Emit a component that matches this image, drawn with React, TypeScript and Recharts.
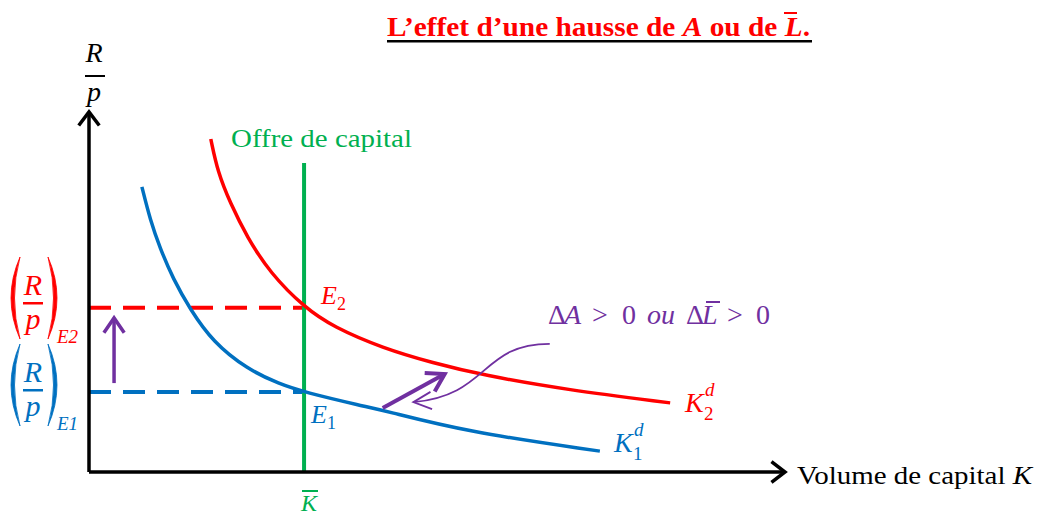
import React from 'react';
import { LineChart, Line, XAxis, YAxis, ReferenceLine } from 'recharts';

// Demand curve K1d (blue) — capital volume K and real rental rate R/p
const blueK = [0.76, 0.88, 1.02, 1.21, 1.45, 1.78, 2.27, 2.74, 3.09, 3.94, 4.22, 5.43, 7.34];
const blueR = [7.92, 7.0, 6.22, 5.36, 4.53, 3.61, 2.86, 2.44, 2.22, 1.83, 1.72, 1.11, 0.58];
// Demand curve K2d (red)
const redK = [1.75, 1.85, 2.03, 2.27, 2.6, 3.1, 3.51, 4.22, 4.94, 5.66, 6.87, 8.35];
const redR = [9.25, 8.33, 7.47, 6.53, 5.53, 4.56, 4.03, 3.44, 3.03, 2.69, 2.28, 1.92];
// Capital supply and equilibria
const kBar = 3.09;
const supplyTop = 8.58;
const rE1 = 2.22;
const rE2 = 4.56;
const xMax = 10;
const yMax = 10;
// Shift arrows
const shiftArrow = [{ x: 4.22, y: 1.78 }, { x: 5.11, y: 2.72 }];
const noteArrow = [{ x: 6.62, y: 3.56 }, { x: 4.66, y: 1.94 }];
const riseArrow = [{ x: 0.36, y: 2.47 }, { x: 0.36, y: 4.28 }];

const blueData = blueK.map((k, i) => ({ k, r: blueR[i] }));
const redData = redK.map((k, i) => ({ k, r: redR[i] }));

const RED = '#FF0000';
const BLUE = '#0070C0';
const GREEN = '#00B050';
const PURPLE = '#7030A0';
const SERIF = '"Liberation Serif", "Times New Roman", serif';

function head(x2: number, y2: number, ang: number, len: number, spread: number) {
  const a1 = ang + Math.PI - spread;
  const a2 = ang + Math.PI + spread;
  return `M ${x2 + len * Math.cos(a1)} ${y2 + len * Math.sin(a1)} L ${x2} ${y2} L ${x2 + len * Math.cos(a2)} ${y2 + len * Math.sin(a2)}`;
}

const arrowShape = (color: string, width: number, len: number, spread: number) => (props: any) => {
  const { x1, y1, x2, y2 } = props;
  const ang = Math.atan2(y2 - y1, x2 - x1);
  return (
    <g>
      <line x1={x1} y1={y1} x2={x2} y2={y2} stroke={color} strokeWidth={width} />
      <path d={head(x2, y2, ang, len, spread)} fill="none" stroke={color} strokeWidth={width} strokeLinejoin="miter" />
    </g>
  );
};

const curvedArrow = (props: any) => {
  const { x1, y1, x2, y2 } = props;
  const dx = x2 - x1;
  const dy = y2 - y1;
  const c1x = x1 + 0.51 * dx;
  const c1y = y1;
  const c2x = x1 + 0.44 * dx;
  const c2y = y1 + 0.88 * dy;
  const ang = Math.atan2(y2 - c2y, x2 - c2x);
  return (
    <g>
      <path d={`M ${x1} ${y1} C ${c1x} ${c1y} ${c2x} ${c2y} ${x2} ${y2}`} fill="none" stroke={PURPLE} strokeWidth={1.8} />
      <path d={head(x2, y2, ang, 20, 0.45)} fill="none" stroke={PURPLE} strokeWidth={1.8} />
    </g>
  );
};

function Paren({ x, top, bottom, color, right }: { x: number; top: number; bottom: number; color: string; right?: boolean }) {
  const mid = (top + bottom) / 2;
  const s = right ? 1 : -1;
  const d = `M ${x} ${top} Q ${x + s * 18} ${mid} ${x} ${bottom} Q ${x + s * 11} ${mid} ${x} ${top} Z`;
  return <path d={d} fill={color} stroke={color} strokeWidth={0.8} />;
}

function RpLabel({ color, top, sub }: { color: string; top: number; sub: string }) {
  return (
    <g fontFamily={SERIF} fill={color}>
      <Paren x={20} top={top} bottom={top + 82} color={color} />
      <Paren x={48} top={top} bottom={top + 82} color={color} right />
      <text x={33} y={top + 38} fontSize={30} fontStyle="italic" textAnchor="middle">R</text>
      <rect x={23} y={top + 45} width={20} height={2.5} fill={color} />
      <text x={33} y={top + 72} fontSize={30} fontStyle="italic" textAnchor="middle">p</text>
      <text x={57} y={top + 86} fontSize={19} fontStyle="italic">{sub}</text>
    </g>
  );
}

export default function App() {
  return (
    <div style={{ position: 'absolute', left: 0, top: 0, width: 1039, height: 518, background: '#fff' }}>
      <LineChart width={1039} height={518} margin={{ top: 112, right: 254, bottom: 46, left: 89 }}>
        <XAxis type="number" dataKey="k" domain={[0, xMax]} hide allowDataOverflow />
        <YAxis type="number" dataKey="r" domain={[0, yMax]} hide allowDataOverflow />

        <ReferenceLine segment={[{ x: 0, y: rE2 }, { x: kBar, y: rE2 }]} stroke={RED} strokeWidth={4} strokeDasharray="22 12" ifOverflow="visible" />
        <ReferenceLine segment={[{ x: 0, y: rE1 }, { x: kBar, y: rE1 }]} stroke={BLUE} strokeWidth={4} strokeDasharray="22 12" ifOverflow="visible" />
        <ReferenceLine segment={[{ x: kBar, y: 0 }, { x: kBar, y: supplyTop }]} stroke={GREEN} strokeWidth={4} ifOverflow="visible" />

        <Line data={blueData} dataKey="r" type="basis" stroke={BLUE} strokeWidth={3.5} dot={false} isAnimationActive={false} />
        <Line data={redData} dataKey="r" type="basis" stroke={RED} strokeWidth={3.5} dot={false} isAnimationActive={false} />

        <ReferenceLine segment={[{ x: 0, y: 0 }, { x: xMax, y: 0 }]} ifOverflow="visible" shape={arrowShape('#000', 3.5, 17, 0.65)} />
        <ReferenceLine segment={[{ x: 0, y: 0 }, { x: 0, y: yMax }]} ifOverflow="visible" shape={arrowShape('#000', 3.5, 17, 0.65)} />
        <ReferenceLine segment={riseArrow} ifOverflow="visible" shape={arrowShape(PURPLE, 3.5, 18, 0.6)} />
        <ReferenceLine segment={shiftArrow} ifOverflow="visible" shape={arrowShape(PURPLE, 4, 20, 0.55)} />
        <ReferenceLine segment={noteArrow} ifOverflow="visible" shape={curvedArrow} />

        <g fontFamily={SERIF}>
          <text x={387} y={36} fontSize={27} fontWeight="bold" fill={RED} textLength={423} lengthAdjust="spacingAndGlyphs">
            <tspan>L’effet d’une hausse de </tspan>
            <tspan fontStyle="italic">A</tspan>
            <tspan> ou de </tspan>
            <tspan fontStyle="italic">L</tspan>
            <tspan>.</tspan>
          </text>
          <rect x={387} y={40} width={425} height={2.5} fill="#000" />
          <rect x={784} y={12} width={13} height={2} fill={RED} />

          <text x={231} y={147} fontSize={26} fill={GREEN} textLength={181} lengthAdjust="spacingAndGlyphs">Offre de capital</text>

          <text x={797} y={484} fontSize={26} fill="#000" textLength={235} lengthAdjust="spacingAndGlyphs">
            <tspan>Volume de capital </tspan>
            <tspan fontStyle="italic">K</tspan>
          </text>

          <text x={94} y={62} fontSize={28} fontStyle="italic" textAnchor="middle">R</text>
          <rect x={85} y={75} width={20} height={2} fill="#000" />
          <text x={94} y={101} fontSize={28} fontStyle="italic" textAnchor="middle">p</text>

          <text x={309} y={511} fontSize={24} fontStyle="italic" fill={GREEN} textAnchor="middle">K</text>
          <rect x={302} y={490} width={16} height={2} fill={GREEN} />

          <text x={321} y={304} fontSize={26} fontStyle="italic" fill={RED}>
            E<tspan fontSize={18} fontStyle="normal" dy={6}>2</tspan>
          </text>
          <text x={311} y={423} fontSize={26} fontStyle="italic" fill={BLUE}>
            E<tspan fontSize={18} fontStyle="normal" dy={6}>1</tspan>
          </text>

          <text x={685} y={412} fontSize={28} fontStyle="italic" fill={RED}>K</text>
          <text x={705} y={396} fontSize={19} fontStyle="italic" fill={RED}>d</text>
          <text x={704} y={420} fontSize={19} fill={RED}>2</text>

          <text x={614} y={452} fontSize={28} fontStyle="italic" fill={BLUE}>K</text>
          <text x={634} y={436} fontSize={19} fontStyle="italic" fill={BLUE}>d</text>
          <text x={633} y={460} fontSize={19} fill={BLUE}>1</text>

          <text y={324} fontSize={28} fill={PURPLE}>
            <tspan x={548}>Δ</tspan>
            <tspan x={564} fontStyle="italic">A</tspan>
            <tspan x={592}>&gt;</tspan>
            <tspan x={622}>0</tspan>
            <tspan x={647} fontStyle="italic">ou</tspan>
            <tspan x={686}>Δ</tspan>
            <tspan x={702} fontStyle="italic">L</tspan>
            <tspan x={727}>&gt;</tspan>
            <tspan x={756}>0</tspan>
          </text>
          <rect x={706} y={301} width={14} height={2} fill={PURPLE} />
        </g>

        <g>
          <RpLabel color={RED} top={257} sub="E2" />
          <RpLabel color={BLUE} top={344} sub="E1" />
        </g>
      </LineChart>
    </div>
  );
}
